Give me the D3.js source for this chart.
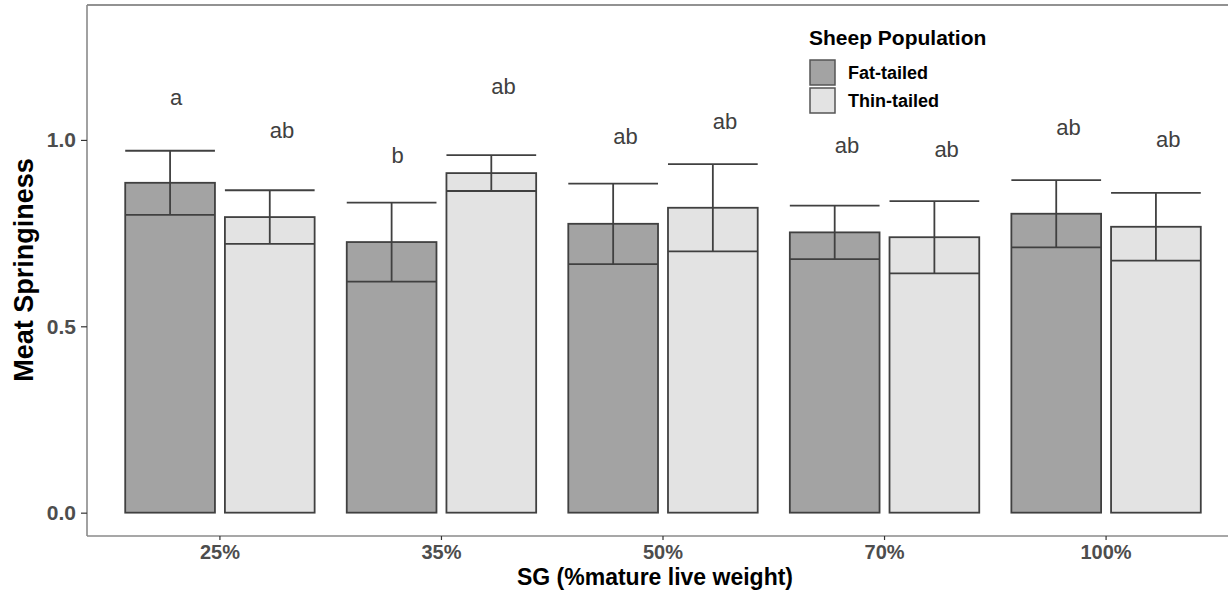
<!DOCTYPE html>
<html>
<head>
<meta charset="utf-8">
<script src="https://cdn.jsdelivr.net/npm/d3@7"></script>
<style>
  html, body { margin: 0; padding: 0; background: #fff; }
  svg { display: block; }
</style>
</head>
<body>
<svg id="chart" width="1228" height="590"></svg>
<script>
// Meat springiness by slaughter group and sheep population
const categories = ["25%", "35%", "50%", "70%", "100%"];
const populations = ["Fat-tailed", "Thin-tailed"];

const fatMean = [0.885, 0.726, 0.775, 0.752, 0.802];
const fatSE   = [0.086, 0.106, 0.108, 0.072, 0.090];
const thinMean = [0.793, 0.911, 0.818, 0.739, 0.767];
const thinSE   = [0.072, 0.048, 0.117, 0.097, 0.091];

const fatLetters  = ["a", "b", "ab", "ab", "ab"];
const thinLetters = ["ab", "ab", "ab", "ab", "ab"];
const fatLetterY  = [1.094, 0.937, 0.988, 0.964, 1.013];
const thinLetterY = [1.005, 1.123, 1.029, 0.954, 0.982];

const yTicks = [0.0, 0.5, 1.0];

const fills = { "Fat-tailed": "#a3a3a3", "Thin-tailed": "#e3e3e3" };
const stroke = "#404040";

const rows = [];
categories.forEach((c, i) => {
  rows.push({ cat: c, pop: "Fat-tailed", mean: fatMean[i], se: fatSE[i], letter: fatLetters[i], ly: fatLetterY[i] });
  rows.push({ cat: c, pop: "Thin-tailed", mean: thinMean[i], se: thinSE[i], letter: thinLetters[i], ly: thinLetterY[i] });
});

const svg = d3.select("#chart");
const panel = { left: 87, right: 1239, top: 5, bottom: 536 };

const x = d3.scaleBand().domain(categories)
  .range([panel.left, panel.right]).paddingInner(0).paddingOuter(0.1);
const xSub = d3.scaleBand().domain(populations)
  .range([-0.45 * x.step(), 0.45 * x.step()]).paddingInner(0.1).paddingOuter(0.05);
const y = d3.scaleLinear().domain([-0.0626, 1.362]).range([panel.bottom, panel.top]);

const barX = d => x(d.cat) + x.bandwidth() / 2 + xSub(d.pop);
const barC = d => barX(d) + xSub.bandwidth() / 2;

// panel frame: top edge
svg.append("line")
  .attr("x1", panel.left).attr("x2", 1228)
  .attr("y1", panel.top).attr("y2", panel.top)
  .attr("stroke", "#6e6e6e").attr("stroke-width", 1.6);

// bars
svg.append("g").selectAll("rect").data(rows).join("rect")
  .attr("x", barX)
  .attr("width", xSub.bandwidth())
  .attr("y", d => y(d.mean))
  .attr("height", d => y(0) - y(d.mean))
  .attr("fill", d => fills[d.pop])
  .attr("stroke", stroke).attr("stroke-width", 1.8);

// error bars (whiskers span the full bar width)
const eb = svg.append("g").attr("stroke", stroke).attr("stroke-width", 1.8).attr("fill", "none");
rows.forEach(d => {
  const x0 = barX(d), x1 = barX(d) + xSub.bandwidth(), xc = barC(d);
  const yHi = y(d.mean + d.se), yLo = y(d.mean - d.se);
  eb.append("line").attr("x1", x0).attr("x2", x1).attr("y1", yHi).attr("y2", yHi);
  eb.append("line").attr("x1", x0).attr("x2", x1).attr("y1", yLo).attr("y2", yLo);
  eb.append("line").attr("x1", xc).attr("x2", xc).attr("y1", yHi).attr("y2", yLo);
});

// significance letters
svg.append("g").selectAll("text").data(rows).join("text")
  .attr("x", barC)
  .attr("y", d => y(d.ly))
  .attr("text-anchor", "start")
  .attr("font-family", "Liberation Sans, Arial, sans-serif")
  .attr("font-size", 22)
  .attr("fill", "#404040")
  .text(d => d.letter);

// axes
const xAxis = svg.append("g")
  .attr("transform", `translate(0,${panel.bottom})`)
  .call(d3.axisBottom(x).tickSize(4).tickPadding(4));
xAxis.select(".domain").attr("stroke", "#8a8a8a").attr("stroke-width", 1.6)
  .attr("d", `M${panel.left},0H1228`);
xAxis.selectAll(".tick line").attr("stroke", "#333").attr("stroke-width", 1.2);
xAxis.selectAll(".tick text")
  .attr("font-family", "Liberation Sans, Arial, sans-serif")
  .attr("font-size", 20).attr("font-weight", "bold").attr("fill", "#4d4d4d")
  .attr("dy", "0.76em");

const yAxis = svg.append("g")
  .attr("transform", `translate(${panel.left},0)`)
  .call(d3.axisLeft(y).tickValues(yTicks).tickFormat(d3.format(".1f")).tickSize(6).tickPadding(5));
yAxis.select(".domain").attr("stroke", "#8a8a8a").attr("stroke-width", 1.6)
  .attr("d", `M0,${panel.top}V${panel.bottom}`);
yAxis.selectAll(".tick line").attr("stroke", "#333").attr("stroke-width", 1.2);
yAxis.selectAll(".tick text")
  .attr("font-family", "Liberation Sans, Arial, sans-serif")
  .attr("font-size", 21).attr("font-weight", "bold").attr("fill", "#4d4d4d");

// axis titles
svg.append("text")
  .attr("x", 655).attr("y", 585)
  .attr("text-anchor", "middle")
  .attr("font-family", "Liberation Sans, Arial, sans-serif")
  .attr("font-size", 23).attr("font-weight", "bold").attr("fill", "#000")
  .text("SG (%mature live weight)");

svg.append("text")
  .attr("transform", "translate(33,270) rotate(-90)")
  .attr("text-anchor", "middle")
  .attr("font-family", "Liberation Sans, Arial, sans-serif")
  .attr("font-size", 27).attr("font-weight", "bold").attr("fill", "#000")
  .text("Meat Springiness");

// legend
const lg = svg.append("g").attr("transform", "translate(809,0)");
lg.append("text").attr("x", 0).attr("y", 44.5)
  .attr("font-family", "Liberation Sans, Arial, sans-serif")
  .attr("font-size", 21).attr("font-weight", "bold").attr("fill", "#000")
  .text("Sheep Population");
populations.forEach((p, i) => {
  lg.append("rect").attr("x", 1).attr("y", 60 + i * 28).attr("width", 25).attr("height", 25)
    .attr("fill", fills[p]).attr("stroke", "#555").attr("stroke-width", 1.5);
  lg.append("text").attr("x", 39).attr("y", 79 + i * 27.5)
    .attr("font-family", "Liberation Sans, Arial, sans-serif")
    .attr("font-size", 18).attr("font-weight", "bold").attr("fill", "#000")
    .text(p);
});
</script>
</body>
</html>
